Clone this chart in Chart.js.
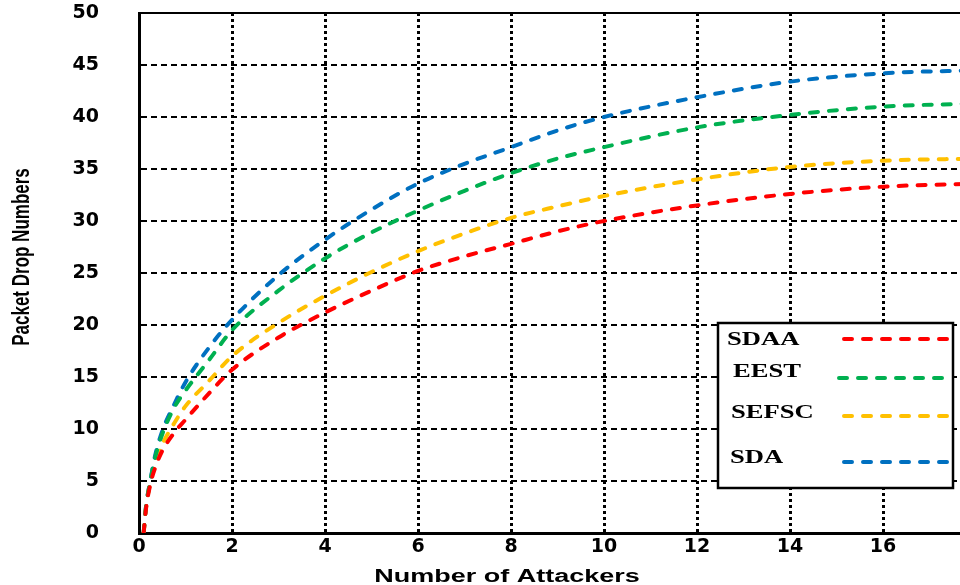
<!DOCTYPE html>
<html>
<head>
<meta charset="utf-8">
<script src="https://cdn.jsdelivr.net/npm/chart.js@4/dist/chart.umd.min.js"></script>
<style>
  html, body { margin: 0; padding: 0; background: #fff; }
  #wrap { width: 960px; height: 585px; overflow: hidden; position: relative; }
  #c { position: absolute; left: 0; top: 0; }
</style>
</head>
<body>
<div id="wrap"><canvas id="c" width="1000" height="585"></canvas></div>
<script>
// ---- data ----
const attackers = [0.1, 0.15, 0.25, 0.35, 0.5, 0.75, 1, 1.5, 2, 3, 4, 5, 6, 7, 8, 9, 10, 12, 14, 16, 18];
const sdaa  = [0, 2.3, 4.8, 6.3, 7.9, 9.6, 10.9, 13.4, 15.7, 18.8, 21.2, 23.3, 25.2, 26.6, 27.8, 29.0, 30.0, 31.5, 32.6, 33.3, 33.6];
const eest  = [0, 2.5, 5.1, 7.3, 9.5, 12.0, 13.7, 16.6, 19.5, 23.3, 26.4, 28.9, 31.0, 32.9, 34.6, 36.0, 37.1, 39.0, 40.2, 41.0, 41.3];
const sefsc = [0, 2.4, 5.0, 6.7, 8.5, 10.5, 12.2, 14.6, 17.0, 20.2, 22.8, 25.1, 27.1, 28.8, 30.3, 31.4, 32.4, 34.0, 35.2, 35.8, 36.0];
const sda   = [0, 2.5, 5.2, 7.5, 9.8, 12.3, 14.5, 17.8, 20.5, 24.8, 28.2, 31.1, 33.6, 35.5, 37.1, 38.7, 40.0, 41.9, 43.4, 44.2, 44.5];
const seriesNames = ['SDAA', 'EEST', 'SEFSC', 'SDA'];
const seriesValues = [sdaa, eest, sefsc, sda];
const seriesColors = ['#FF0000', '#00B050', '#FFC000', '#0070C0'];
const xTitle = 'Number of Attackers';
const yTitle = 'Packet Drop Numbers';
const xMin = 0, xMax = 18, xStep = 2;
const yMin = 0, yMax = 50, yStep = 5;

const datasets = seriesNames.map((name, i) => ({
  label: name,
  data: attackers.map((x, j) => ({ x: x, y: seriesValues[i][j] })),
  borderColor: seriesColors[i],
  backgroundColor: seriesColors[i],
  borderWidth: 4,
  borderDash: [8, 11],
  borderCapStyle: 'round',
  pointRadius: 0,
  fill: false,
  cubicInterpolationMode: 'monotone'
}));

const decorPlugin = {
  id: 'decor',
  beforeDatasetsDraw(chart) {
    const { ctx, chartArea } = chart;
    ctx.save();
    ctx.strokeStyle = '#000';
    ctx.lineWidth = 2;
    ctx.beginPath();
    ctx.moveTo(chartArea.left, chartArea.top);
    ctx.lineTo(chartArea.right, chartArea.top);
    ctx.stroke();
    ctx.restore();
  },
  afterDatasetsDraw(chart) {
    const { ctx } = chart;
    ctx.save();
    ctx.fillStyle = '#fff';
    ctx.fillRect(718, 323, 235, 165);
    ctx.strokeStyle = '#000';
    ctx.lineWidth = 2.5;
    ctx.strokeRect(718, 323, 235, 165);
    const textX = [727, 733, 731, 730];
    const textY = [340, 372, 413, 458];
    const lineY = [339, 378, 416, 462];
    const lineX1 = [844, 839, 844, 844];
    const lineX2 = [947, 944, 947, 948];
    chart.data.datasets.forEach((ds, i) => {
      ctx.save();
      ctx.translate(textX[i], textY[i]);
      ctx.scale(1.4, 1);
      ctx.fillStyle = '#000';
      ctx.font = 'bold 19px "Liberation Serif", "Times New Roman", serif';
      ctx.textBaseline = 'middle';
      ctx.textAlign = 'left';
      ctx.fillText(ds.label, 0, 0);
      ctx.restore();
      ctx.save();
      ctx.strokeStyle = ds.borderColor;
      ctx.lineWidth = 4;
      ctx.lineCap = 'round';
      ctx.setLineDash([8, 11]);
      ctx.beginPath();
      ctx.moveTo(lineX1[i], lineY[i]);
      ctx.lineTo(lineX2[i], lineY[i]);
      ctx.stroke();
      ctx.restore();
    });
    ctx.restore();
  },
  afterDraw(chart) {
    const { ctx } = chart;
    ctx.save();
    ctx.fillStyle = '#000';
    ctx.translate(507, 582);
    ctx.scale(1.5, 1);
    ctx.font = 'bold 18px "Liberation Sans", Arial, sans-serif';
    ctx.textAlign = 'center';
    ctx.textBaseline = 'alphabetic';
    ctx.fillText(xTitle, 0, 0);
    ctx.restore();

    ctx.save();
    ctx.fillStyle = '#000';
    ctx.translate(22, 257);
    ctx.rotate(-Math.PI / 2);
    ctx.scale(1, 1.45);
    ctx.font = 'bold 17px "Liberation Sans", Arial, sans-serif';
    ctx.textAlign = 'center';
    ctx.textBaseline = 'middle';
    ctx.fillText(yTitle, 0, 0);
    ctx.restore();
  }
};

new Chart(document.getElementById('c'), {
  type: 'line',
  data: { datasets: datasets },
  options: {
    responsive: false,
    animation: false,
    devicePixelRatio: 1,
    layout: { padding: { left: 0, top: 13, right: 24, bottom: 0 } },
    plugins: { legend: { display: false }, tooltip: { enabled: false } },
    scales: {
      x: {
        type: 'linear',
        min: xMin, max: xMax,
        ticks: {
          stepSize: xStep,
          color: '#000',
          padding: 3,
          font: { family: '"DejaVu Sans", sans-serif', weight: 'bold', size: 19 }
        },
        grid: {
          drawTicks: false,
          lineWidth: 3,
          color: (c) => (c.tick && (c.tick.value === xMin || c.tick.value === xMax)) ? 'rgba(0,0,0,0)' : '#000'
        },
        border: { display: true, color: '#000', width: 3, dash: [3, 3] },
        afterFit: (s) => { s.height = 52; s.paddingLeft = 0; s.paddingRight = 0; }
      },
      y: {
        type: 'linear',
        min: yMin, max: yMax,
        ticks: {
          stepSize: yStep,
          color: '#000',
          padding: 40,
          font: { family: '"DejaVu Sans", sans-serif', weight: 'bold', size: 19 }
        },
        grid: {
          drawTicks: false,
          lineWidth: 2,
          color: (c) => (c.tick && (c.tick.value === yMin || c.tick.value === yMax)) ? 'rgba(0,0,0,0)' : '#000'
        },
        border: { display: true, color: '#000', width: 3, dash: [6, 4] },
        afterFit: (s) => { s.width = 139; s.paddingTop = 0; s.paddingBottom = 0; }
      }
    }
  },
  plugins: [decorPlugin]
});
</script>
</body>
</html>
